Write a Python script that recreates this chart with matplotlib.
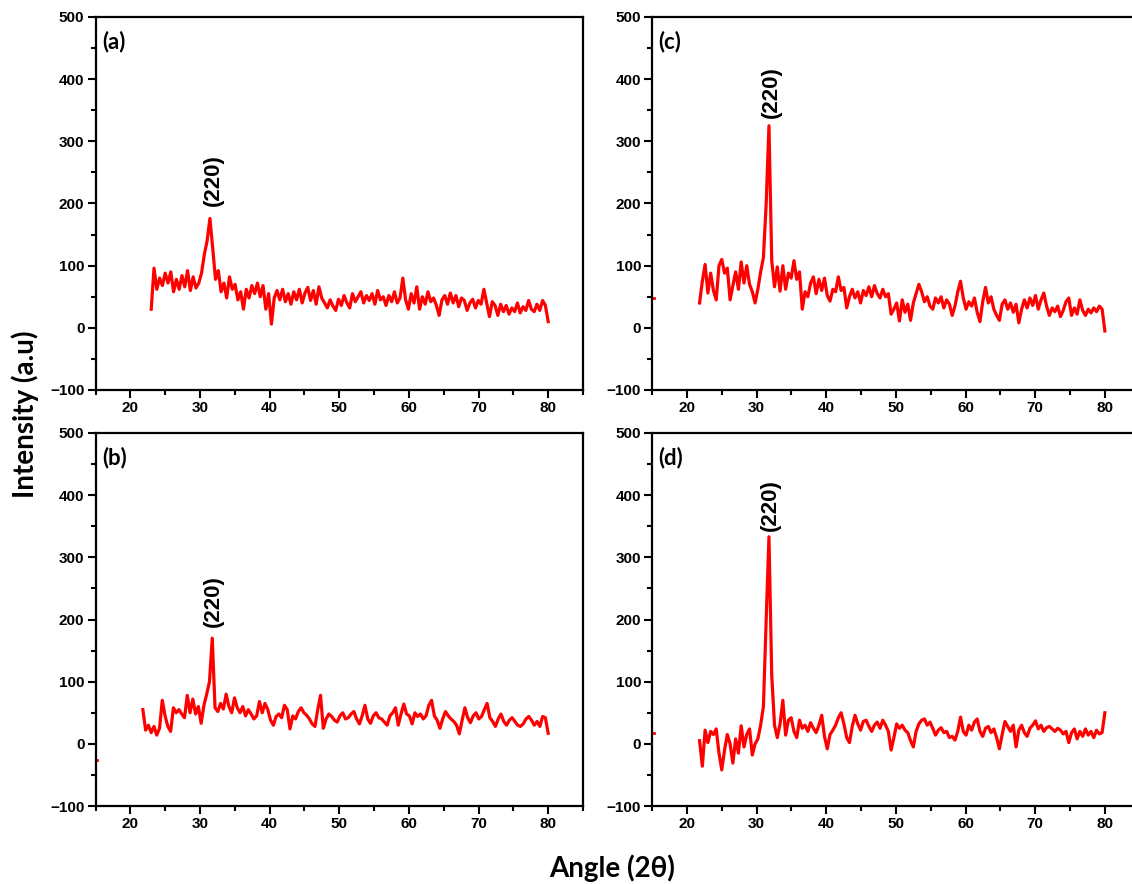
import numpy as np
import matplotlib
matplotlib.use("Agg")
import matplotlib.pyplot as plt
from matplotlib.ticker import MultipleLocator

# XRD patterns, intensity (a.u.) read on an even 2-theta grid
x_range_a = (23.0, 80.0)
y_a = [30, 96, 62, 80, 68, 88, 72, 90, 58, 78,
       62, 84, 66, 92, 60, 82, 64, 72, 88, 118,
       140, 176, 128, 78, 92, 58, 72, 48, 82, 62,
       70, 45, 58, 30, 62, 48, 68, 55, 72, 50,
       68, 30, 55, 6, 48, 60, 45, 62, 42, 55,
       38, 58, 45, 62, 40, 56, 65, 44, 60, 38,
       66, 48, 40, 32, 45, 35, 28, 46, 36, 52,
       40, 32, 55, 42, 50, 58, 40, 52, 44, 55,
       38, 60, 45, 50, 36, 52, 42, 58, 40, 48,
       80, 45, 30, 55, 40, 66, 30, 50, 38, 58,
       42, 48, 36, 20, 45, 52, 38, 56, 40, 52,
       34, 48, 44, 28, 40, 46, 32, 44, 38, 62,
       40, 18, 42, 36, 20, 38, 26, 36, 22, 32,
       26, 40, 24, 34, 28, 44, 30, 26, 38, 28,
       44, 36, 10]

x_range_b = (21.8, 80.0)
y_b = [55, 22, 30, 18, 28, 14, 25, 70, 45, 28,
       20, 58, 50, 55, 48, 42, 78, 50, 72, 48,
       60, 33, 62, 80, 100, 170, 58, 52, 65, 56,
       80, 60, 50, 74, 58, 50, 60, 45, 55, 48,
       40, 45, 68, 50, 65, 55, 38, 30, 44, 48,
       42, 62, 55, 24, 45, 40, 52, 58, 50, 46,
       40, 32, 28, 55, 78, 25, 40, 48, 44, 38,
       35, 45, 50, 40, 42, 48, 52, 40, 32, 45,
       62, 40, 33, 45, 50, 42, 40, 35, 30, 45,
       50, 58, 30, 48, 64, 48, 45, 32, 50, 44,
       48, 40, 45, 62, 70, 45, 38, 25, 40, 52,
       45, 40, 36, 30, 16, 38, 58, 42, 34, 45,
       50, 40, 44, 55, 65, 42, 36, 28, 40, 48,
       36, 30, 38, 42, 36, 30, 28, 32, 40, 44,
       38, 30, 36, 28, 44, 42, 17]

x_range_c = (21.8, 80.0)
y_c = [40, 75, 102, 56, 88, 60, 45, 100, 110, 88,
       96, 45, 68, 90, 62, 106, 72, 100, 70, 58,
       40, 62, 90, 113, 200, 325, 108, 66, 98, 59,
       100, 62, 88, 80, 108, 78, 90, 30, 58, 50,
       72, 82, 55, 78, 60, 80, 52, 43, 62, 58,
       82, 60, 65, 32, 50, 62, 48, 58, 40, 60,
       52, 66, 50, 68, 55, 48, 62, 50, 55, 22,
       30, 40, 11, 45, 25, 38, 12, 40, 55, 70,
       58, 42, 50, 35, 30, 48, 40, 50, 32, 45,
       38, 20, 35, 58, 75, 48, 30, 42, 35, 48,
       25, 10, 42, 65, 40, 50, 30, 20, 12, 38,
       45, 30, 40, 25, 38, 8, 30, 45, 32, 48,
       36, 52, 30, 45, 56, 35, 20, 32, 26, 35,
       18, 28, 42, 48, 20, 32, 22, 45, 28, 20,
       30, 24, 32, 26, 35, 30, -5]

x_range_d = (21.8, 80.0)
y_d = [5, -36, 22, 2, 20, 15, 24, -15, -42, -10,
       15, 0, -31, 8, -15, 29, -5, 15, 24, -18,
       0, 8, 30, 60, 200, 333, 110, 30, 10, 32,
       70, 14, 38, 42, 20, 10, 38, 25, 30, 20,
       34, 25, 18, 30, 46, 12, -8, 15, 22, 30,
       42, 50, 32, 10, 2, 28, 46, 32, 22, 36,
       38, 28, 20, 30, 35, 25, 38, 30, 20, -10,
       10, 32, 25, 30, 22, 18, 5, -5, 20, 32,
       38, 40, 30, 35, 25, 14, 22, 26, 18, 20,
       10, 12, 6, 20, 43, 20, 14, 30, 22, 35,
       40, 20, 12, 25, 28, 18, 24, 10, -8, 15,
       36, 28, 20, 30, -5, 22, 30, 18, 12, 25,
       30, 37, 24, 30, 20, 26, 28, 24, 20, 25,
       22, 16, 20, 2, 18, 24, 8, 20, 12, 24,
       14, 20, 10, 22, 16, 18, 50]

panel_tags = ["(a)", "(b)", "(c)", "(d)"]
# stubs of trace that poke out at the left spine
edge_y = [None, -26, 48, 17]
peak_label = "(220)"
peak_label_x = [31.9, 31.9, 32.1, 31.9]
peak_label_y = [196, 188, 338, 342]

series = [(x_range_a, y_a), (x_range_b, y_b), (x_range_c, y_c), (x_range_d, y_d)]

plt.rcParams["font.family"] = ["Liberation Sans", "DejaVu Sans"]
title_font = ["Lato", "Open Sans", "DejaVu Sans"]

fig = plt.figure(figsize=(11.32, 8.84), dpi=100)
W, H = 1132.0, 884.0
# left, top in pixels
boxes = [(95.5, 17), (95.5, 433), (652.2, 17), (652.2, 433)]
ax_w, ax_h = 487.5, 373

for i, (left, top) in enumerate(boxes):
    ax = fig.add_axes([left / W, 1 - (top + ax_h) / H, ax_w / W, ax_h / H])
    (x0, x1), yv = series[i]
    xv = np.linspace(x0, x1, len(yv))
    ax.plot(xv, yv, color="#ff0000", lw=2.3)
    if edge_y[i] is not None:
        ax.plot([15.0, 15.25], [edge_y[i], edge_y[i]], color="#ff0000", lw=2.0)

    ax.set_xlim(15, 85)
    ax.set_ylim(-100, 500)
    ax.xaxis.set_major_locator(MultipleLocator(10))
    ax.xaxis.set_minor_locator(MultipleLocator(5))
    ax.yaxis.set_major_locator(MultipleLocator(100))
    ax.yaxis.set_minor_locator(MultipleLocator(50))
    ax.tick_params(which="both", direction="out", width=1.5, top=False, right=False)
    ax.tick_params(which="major", length=6, pad=2, labelsize=11)
    ax.tick_params(which="minor", length=3.5)
    for lab in ax.get_xticklabels() + ax.get_yticklabels():
        lab.set_fontweight("bold")
    for sp in ax.spines.values():
        sp.set_linewidth(1.6)

    ax.text(0.013, 0.935, panel_tags[i], transform=ax.transAxes, fontsize=16,
            fontweight="bold", family=title_font, ha="left", va="center")
    ax.text(peak_label_x[i], peak_label_y[i], peak_label, rotation=90,
            fontsize=16, fontweight="bold", ha="center", va="bottom")

fig.text(0.022, 0.531, "Intensity (a.u)", rotation=90, fontsize=20,
         fontweight="bold", family=title_font, ha="center", va="center")
fig.text(0.541, 0.018, "Angle (2\u03b8)", fontsize=20, fontweight="bold",
         family=title_font, ha="center", va="center")

fig.savefig("out.png", dpi=100)
